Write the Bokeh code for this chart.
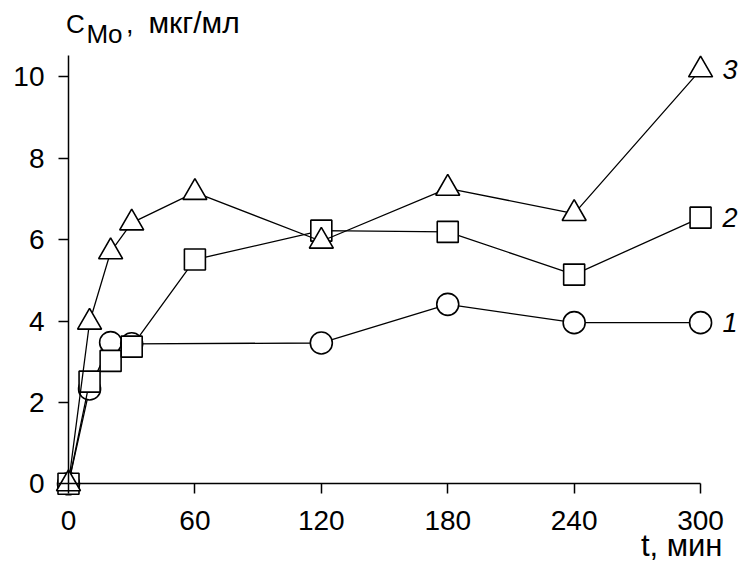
from bokeh.plotting import figure
from bokeh.models import Range1d, FixedTicker, Label
from bokeh.embed import file_html
from bokeh.resources import INLINE

# time, min
t = [0, 10, 20, 30, 120, 180, 240, 300]
t2 = [0, 10, 20, 30, 60, 120, 180, 240, 300]
# C_Mo, ug/ml
c1 = [0.0, 2.33, 3.47, 3.44, 3.46, 4.41, 3.96, 3.96]
c2 = [0.0, 2.51, 3.02, 3.37, 5.51, 6.22, 6.19, 5.14, 6.54]
c3 = [0.0, 3.97, 5.70, 6.41, 7.16, 5.96, 7.26, 6.64, 10.17]
x_ticks = [0, 60, 120, 180, 240, 300]
y_ticks = [0, 2, 4, 6, 8, 10]
series_labels = ["1", "2", "3"]

FONT = "Liberation Sans"

# frame covers the whole canvas; axes are pinned at t=0 / C=0
p = figure(width=742, height=565, output_backend="svg", toolbar_location=None,
           x_range=Range1d(-32.27, 319.9), y_range=Range1d(-2.007, 11.875),
           min_border=0, min_border_left=0, min_border_right=0,
           min_border_top=0, min_border_bottom=0)
p.outline_line_color = None
p.xgrid.visible = False
p.ygrid.visible = False
p.background_fill_color = "white"
p.border_fill_color = "white"

p.xaxis.fixed_location = 0
p.yaxis.fixed_location = 0
p.xaxis.bounds = (0, 300)
p.yaxis.bounds = (0, 10.52)

for ax, ticks in ((p.xaxis[0], x_ticks), (p.yaxis[0], y_ticks)):
    ax.ticker = FixedTicker(ticks=ticks)
    ax.minor_tick_line_color = None
    ax.major_tick_in = 0
    ax.major_tick_out = 10
    ax.axis_line_width = 1.5
    ax.major_tick_line_width = 1.5
    ax.axis_line_color = "black"
    ax.major_tick_line_color = "black"
    ax.major_label_text_font = FONT
    ax.major_label_text_font_size = "28px"
    ax.major_label_text_color = "black"
p.xaxis.major_label_standoff = 17
p.yaxis.major_label_standoff = 14

# series 1: circles
p.line(t, c1, line_color="black", line_width=1.3)
p.scatter(t, c1, marker="circle", size=22, fill_color="white", line_color="black", line_width=1.6)
# series 2: squares
p.line(t2, c2, line_color="black", line_width=1.3)
p.scatter(t2, c2, marker="square", size=21, fill_color="white", line_color="black", line_width=1.6)
# series 3: triangles
p.line(t2, c3, line_color="black", line_width=1.3)
p.scatter(t2, c3, marker="triangle", size=24, fill_color="white", line_color="black", line_width=1.6)

for lab, ys, xs in zip(series_labels, (c1, c2, c3), (t, t2, t2)):
    p.add_layout(Label(x=xs[-1], y=ys[-1], x_offset=22, text=lab, text_font=FONT,
                       text_font_size="27px", text_font_style="italic",
                       text_baseline="middle", text_align="left", text_color="black"))


def lbl(x, y, text, size, align="left"):
    p.add_layout(Label(x=x, y=y, text=text, text_font=FONT, text_font_size=size,
                       text_baseline="alphabetic", text_align=align, text_color="black"))


# axis titles
lbl(-1.23, 11.307, "C", "26px")
lbl(8.5, 11.053, "Mo", "26px")
lbl(27.3, 11.31, ",", "27px")
lbl(37.97, 11.33, "мкг/мл", "30px")
lbl(310.4, -1.51, "t, мин", "31px", align="right")

open("out.html", "w").write(file_html(p, INLINE))
